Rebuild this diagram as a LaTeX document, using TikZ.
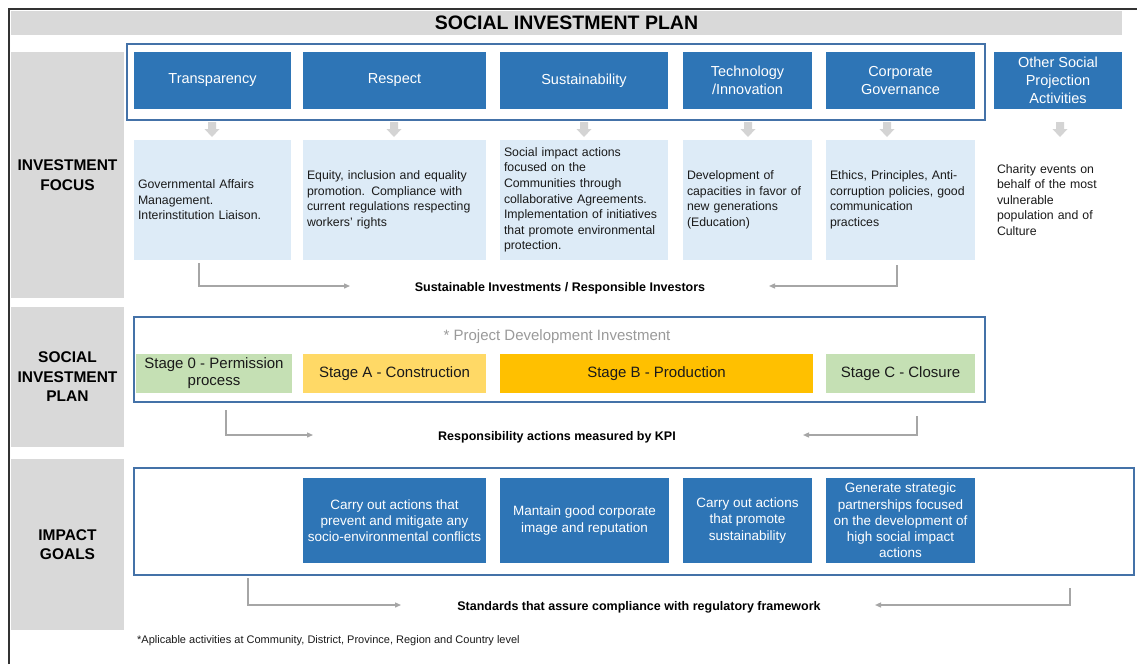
\documentclass[tikz,border=0pt]{standalone}
\usepackage{fontspec}
\setmainfont{Liberation Sans}
\usetikzlibrary{arrows.meta}
\definecolor{hblue}{HTML}{2E75B6}
\definecolor{oblue}{HTML}{4472A8}
\definecolor{lblue}{HTML}{DDEBF7}
\definecolor{sgray}{HTML}{D9D9D9}
\definecolor{agray}{HTML}{D4D4D4}
\definecolor{cgray}{HTML}{A6A6A6}
\definecolor{pgray}{HTML}{9A9A9A}
\definecolor{sgreen}{HTML}{C5E0B4}
\definecolor{syellow}{HTML}{FFD966}
\definecolor{sorange}{HTML}{FFC000}
\definecolor{txt}{HTML}{1A1A1A}
\begin{document}
\begin{tikzpicture}[x=1pt,y=-1pt,
  hdr/.style={fill=hblue,text=white,align=center,inner sep=0pt,minimum height=57,font=\fontsize{14.5}{18}\selectfont},
  lbox/.style={fill=lblue,text=txt,align=left,inner xsep=4pt,inner ysep=0pt,minimum height=120,font=\fontsize{12.3}{15.6}\selectfont},
  otxt/.style={text=txt,align=left,inner xsep=3pt,inner ysep=0pt,font=\fontsize{12.3}{15.6}\selectfont},
  stagebox/.style={text=txt,align=center,inner sep=0pt,minimum height=39,font=\fontsize{15}{17}\selectfont},
  goal/.style={fill=hblue,text=white,align=center,inner sep=0pt,minimum height=85,font=\fontsize{13.5}{16.3}\selectfont},
  side/.style={fill=sgray,text=black,align=center,inner sep=0pt,minimum width=113,font=\bfseries\fontsize{15.5}{19.5}\selectfont},
  outl/.style={draw=oblue,line width=1.6pt,fill=white,inner sep=0pt},
  conn/.style={draw=cgray,line width=1.3pt,-{Triangle[length=6pt,width=5pt]}},
  clabel/.style={text=black,inner sep=0pt,font=\bfseries\fontsize{12.5}{15}\selectfont}
]
\useasboundingbox (0,0) rectangle (1137,664);
\fill[white] (0,0) rectangle (1137,664);
% frame
\draw[line width=1.4pt,black!80] (9,664) -- (9,9) -- (1137,9);
% title
\node[fill=sgray,minimum width=1111,minimum height=24,inner sep=0pt,font=\bfseries\fontsize{19.5}{22}\selectfont] (title) at (566.5,23) {SOCIAL INVESTMENT PLAN};
% side labels
\node[side,minimum height=246] (g1) at (67.5,175) {INVESTMENT\\FOCUS};
\node[side,minimum height=140] (g2) at (67.5,377) {SOCIAL\\INVESTMENT\\PLAN};
\node[side,minimum height=171] (g3) at (67.5,544.5) {IMPACT\\GOALS};
% outlines
\node[outl,minimum width=858,minimum height=76] (o1) at (556,82) {};
\node[outl,minimum width=851,minimum height=85] (o2) at (559.5,359.5) {};
\node[outl,minimum width=1000,minimum height=107] (o3) at (634,521.5) {};
% header boxes
\node[hdr,minimum width=157] (tr) at (212.5,80.5) {Transparency};
\node[hdr,minimum width=183] (re) at (394.5,80.5) {Respect};
\node[hdr,minimum width=168] (su) at (584,80.5) {Sustainability};
\node[hdr,minimum width=129] (te) at (747.5,80.5) {Technology\\/Innovation};
\node[hdr,minimum width=149] (co) at (900.5,80.5) {Corporate\\Governance};
\node[hdr,minimum width=128] (ot) at (1058,80.5) {Other Social\\Projection\\Activities};
% block arrows
\foreach \x in {212,394,584,748,887,1060}{
  \fill[agray] (\x-4,122) -- (\x+4,122) -- (\x+4,129) -- (\x+7.5,129) -- (\x,137) -- (\x-7.5,129) -- (\x-4,129) -- cycle;
}
% light boxes
\node[lbox,text width=149] (l1) at (212.5,200) {Governmental Affairs\\Management.\\Interinstitution Liaison.};
\node[lbox,text width=175] (l2) at (394.5,200) {Equity, inclusion and equality\\promotion. Compliance with\\current regulations respecting\\workers' rights};
\node[lbox,text width=160] (l3) at (584,200) {Social impact actions\\focused on the\\Communities through\\collaborative Agreements.\\Implementation of initiatives\\that promote environmental\\protection.};
\node[lbox,text width=121] (l4) at (747.5,200) {Development of\\capacities in favor of\\new generations\\(Education)};
\node[lbox,text width=141] (l5) at (900.5,200) {Ethics, Principles, Anti-\\corruption policies, good\\communication\\practices};
\node[otxt,text width=124] (l6) at (1059,200) {Charity events on\\behalf of the most\\vulnerable\\population and of\\Culture};
% connector row 1
\node[clabel] (k1) at (560,288) {Sustainable Investments / Responsible Investors};
\coordinate (c1a) at (199,263); \coordinate (c1b) at (350,286);
\coordinate (c1c) at (897,265); \coordinate (c1d) at (769,286);
\draw[conn] (c1a) |- (c1b);
\draw[conn] (c1c) |- (c1d);
% stages
\node[text=pgray,inner sep=0pt,font=\fontsize{15}{17}\selectfont] (pdi) at (557,337) {* Project Development Investment};
\node[stagebox,fill=sgreen,minimum width=156] (s0) at (214,373.5) {Stage 0 - Permission\\process};
\node[stagebox,fill=syellow,minimum width=183] (sa) at (394.5,373.5) {Stage A - Construction};
\node[stagebox,fill=sorange,minimum width=313] (sb) at (656.5,373.5) {Stage B - Production};
\node[stagebox,fill=sgreen,minimum width=149] (sc) at (900.5,373.5) {Stage C - Closure};
% connector row 2
\node[clabel] (k2) at (557,437.5) {Responsibility actions measured by KPI};
\coordinate (c2a) at (226,410); \coordinate (c2b) at (313,435);
\coordinate (c2c) at (917,416); \coordinate (c2d) at (803,435);
\draw[conn] (c2a) |- (c2b);
\draw[conn] (c2c) |- (c2d);
% goals
\node[goal,minimum width=183] (i1) at (394.5,520.5) {Carry out actions that\\prevent and mitigate any\\socio-environmental conflicts};
\node[goal,minimum width=169] (i2) at (584.5,520.5) {Mantain good corporate\\image and reputation};
\node[goal,minimum width=129] (i3) at (747.5,520.5) {Carry out actions\\that promote\\sustainability};
\node[goal,minimum width=149] (i4) at (900.5,520.5) {Generate strategic\\partnerships focused\\on the development of\\high social impact\\actions};
% connector row 3
\node[clabel] (k3) at (639,607.5) {Standards that assure compliance with regulatory framework};
\coordinate (c3a) at (248,578); \coordinate (c3b) at (401,605);
\coordinate (c3c) at (1070,588); \coordinate (c3d) at (875,605);
\draw[conn] (c3a) |- (c3b);
\draw[conn] (c3c) |- (c3d);
% footnote
\node[anchor=west,inner sep=0pt,text=txt,font=\fontsize{11}{13}\selectfont] (fn) at (137,641) {*Aplicable activities at Community, District, Province, Region and Country level};
\end{tikzpicture}
\end{document}
